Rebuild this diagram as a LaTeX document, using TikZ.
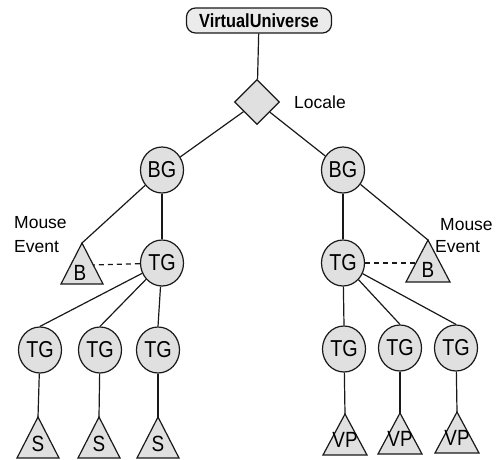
\documentclass[tikz,border=0pt]{standalone}
\usepackage{fontspec}
\setmainfont{Liberation Sans}
\newfontfamily\condfont[FakeStretch=0.86]{Liberation Sans}
\usetikzlibrary{shapes.geometric}
\begin{document}
\begin{tikzpicture}[x=1pt,y=-1pt,
  edge/.style={line width=1.2pt, draw=black!90},
  dashedge/.style={line width=1.2pt, draw=black!90, dashed, dash pattern=on 5pt off 4pt},
  grp/.style={ellipse, draw=black!90, line width=1.2pt, fill=black!12, minimum width=43pt, minimum height=46pt, inner sep=0pt, font=\condfont\fontsize{23}{23}\selectfont},
  tri/.style={draw=black!90, line width=1.2pt, fill=black!12, line join=miter},
  trilabel/.style={inner sep=0pt, font=\condfont\fontsize{22}{22}\selectfont},
  lbl/.style={inner sep=0pt, font=\fontsize{17.5}{17.5}\selectfont},
]
\useasboundingbox (0,0) rectangle (504,459);
% top
\node[draw=black!90, line width=1.2pt, fill=black!8, rounded corners=9pt, minimum width=145pt, minimum height=25pt, inner sep=0pt, font=\bfseries\condfont\fontsize{19}{19}\selectfont] (VU) at (259,20.5) {VirtualUniverse};
\node[diamond, draw=black!90, line width=1.2pt, fill=black!12, minimum width=45pt, minimum height=45pt, inner sep=0pt] (L) at (257,102) {};
\node[lbl] (Ltxt) at (320,102) {Locale};
% group nodes
\node[grp] (BG1) at (162,170) {BG};
\node[grp] (BG2) at (343,170) {BG};
\node[grp] (TG1) at (162,263) {TG};
\node[grp] (TG2) at (343,263) {TG};
\node[grp] (TG3) at (40,350) {TG};
\node[grp] (TG4) at (100,350) {TG};
\node[grp] (TG5) at (158,350) {TG};
\node[grp] (TG6) at (344,349) {TG};
\node[grp] (TG7) at (400,348) {TG};
\node[grp] (TG8) at (456,348) {TG};
% triangles (apex coordinates)
\coordinate (B1) at (82,243);
\coordinate (B2) at (428,240);
\coordinate (S1) at (38,417);
\coordinate (S2) at (99,417);
\coordinate (S3) at (158,417);
\coordinate (V1) at (345,414);
\coordinate (V2) at (400,413);
\coordinate (V3) at (457,412);
\draw[tri] (B1) -- ++(-21,41) -- ++(42,0) -- cycle;
\draw[tri] (B2) -- ++(-22,42) -- ++(44,0) -- cycle;
\draw[tri] (S1) -- ++(-21,41) -- ++(42,0) -- cycle;
\draw[tri] (S2) -- ++(-21,41) -- ++(42,0) -- cycle;
\draw[tri] (S3) -- ++(-21,41) -- ++(42,0) -- cycle;
\draw[tri] (V1) -- ++(-22,41) -- ++(44,0) -- cycle;
\draw[tri] (V2) -- ++(-22,41) -- ++(44,0) -- cycle;
\draw[tri] (V3) -- ++(-22,41) -- ++(44,0) -- cycle;
\node[trilabel] (B1t) at (80,273) {B};
\node[trilabel] (B2t) at (428,270) {B};
\node[trilabel] (S1t) at (38,444) {S};
\node[trilabel] (S2t) at (99,444) {S};
\node[trilabel] (S3t) at (158,444) {S};
\node[trilabel] (V1t) at (345,440) {VP};
\node[trilabel] (V2t) at (400,439) {VP};
\node[trilabel] (V3t) at (457,438) {VP};
\coordinate (B1e) at (93,265);
\coordinate (B2w) at (416,263);
% labels
\node[lbl, anchor=west] (M1) at (14,223) {Mouse};
\node[lbl, anchor=west] (E1) at (14,247) {Event};
\node[lbl, anchor=west] (M2) at (440,225) {Mouse};
\node[lbl, anchor=west] (E2) at (435,247) {Event};
% connectors
\draw[edge] (VU) -- (L);
\draw[edge] (L) -- (BG1);
\draw[edge] (L) -- (BG2);
\draw[edge] (BG1) -- (TG1);
\draw[edge] (BG1) -- (B1);
\draw[edge] (BG2) -- (TG2);
\draw[edge] (BG2) -- (B2);
\draw[dashedge] (TG1) -- (B1e);
\draw[dashedge] (TG2) -- (B2w);
\draw[edge] (TG1) -- (TG3.north);
\draw[edge] (TG1) -- (TG4.north);
\draw[edge] (TG1) -- (TG5.north);
\draw[edge] (TG2) -- (TG6.north);
\draw[edge] (TG2) -- (TG7.north);
\draw[edge] (TG2) -- (TG8.north);
\draw[edge] (TG3) -- (S1);
\draw[edge] (TG4) -- (S2);
\draw[edge] (TG5) -- (S3);
\draw[edge] (TG6) -- (V1);
\draw[edge] (TG7) -- (V2);
\draw[edge] (TG8) -- (V3);
\end{tikzpicture}
\end{document}
